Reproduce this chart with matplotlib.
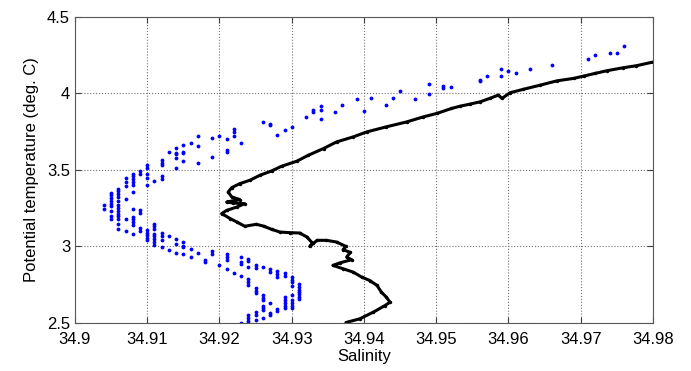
#T-S diagram: CTD profile (black) against bottle samples (blue)
import numpy as np
from matplotlib import pyplot as plt

plt.rcParams['font.family'] = ['Liberation Sans', 'DejaVu Sans']

#bottle samples, one line per salinity bin
blue_sal = []
blue_temp = []
blue_cols = [
    (34.904, [3.272, 3.246]),
    (34.905, [3.350, 3.333, 3.315, 3.298, 3.278, 3.261, 3.228, 3.197, 3.175]),
    (34.906, [3.372, 3.359, 3.339, 3.322, 3.293, 3.272, 3.250, 3.232, 3.213, 3.197, 3.175, 3.143, 3.110]),
    (34.907, [3.446, 3.420, 3.392, 3.309, 3.175, 3.099]),
    (34.908, [3.470, 3.457, 3.438, 3.418, 3.403, 3.357, 3.246, 3.191, 3.175, 3.160, 3.141, 3.082]),
    (34.909, [3.492, 3.475, 3.239, 3.219, 3.118, 3.101]),
    (34.910, [3.534, 3.512, 3.469, 3.449, 3.400, 3.103, 3.088, 3.070, 3.055, 3.040]),
    (34.911, [3.425, 3.143, 3.130, 3.110, 3.077, 3.064, 3.049, 3.027, 3.010]),
    (34.912, [3.564, 3.547, 3.531, 3.459, 3.439, 3.088, 3.066, 3.038, 2.992]),
    (34.913, [3.617, 3.064, 2.972]),
    (34.914, [3.641, 3.610, 3.600, 3.580, 3.514, 3.046, 3.016, 2.954]),
    (34.915, [3.665, 3.617, 3.610, 3.558, 3.029, 3.000, 2.992, 2.948]),
    (34.916, [3.678, 2.983, 2.931]),
    (34.917, [3.720, 3.654, 3.547, 2.957]),
    (34.918, [2.911, 2.896]),
    (34.919, [3.711, 3.584, 2.970, 2.946]),
    (34.920, [3.720, 2.874]),
    (34.921, [3.702, 3.632, 3.617, 2.951, 2.931, 2.910, 2.852]),
    (34.922, [3.764, 3.744, 3.724, 2.826]),
    (34.923, [3.678, 2.931, 2.896, 2.880, 2.802, 2.498]),
    (34.924, [2.918, 2.900, 2.863, 2.782, 2.764, 2.747, 2.546, 2.528, 2.511, 2.498]),
    (34.925, [2.878, 2.859, 2.725, 2.708, 2.695, 2.567, 2.550, 2.518]),
    (34.926, [3.811, 2.861, 2.677, 2.662, 2.646, 2.611, 2.598, 2.585, 2.531]),
    (34.927, [3.800, 3.794, 2.848, 2.830, 2.629, 2.564, 2.548]),
    (34.928, [3.728, 2.834, 2.817, 2.800, 2.590, 2.574]),
    (34.929, [3.757, 2.823, 2.806, 2.664, 2.646, 2.629, 2.611, 2.594]),
    (34.930, [3.783, 2.797, 2.780, 2.764, 2.738, 2.682, 2.649, 2.629, 2.611, 2.594]),
    (34.931, [2.749, 2.732, 2.716, 2.701, 2.686, 2.670, 2.655]),
    (34.932, [3.846]),
    (34.933, [3.890, 3.875]),
    (34.934, [3.916, 3.890, 3.829]),
    (34.936, [3.875]),
    (34.937, [3.927]),
    (34.939, [3.962]),
    (34.940, [3.886]),
    (34.941, [3.971]),
    (34.943, [3.923]),
    (34.944, [3.967]),
    (34.945, [4.017]),
    (34.947, [3.962]),
    (34.949, [4.063, 3.995]),
    (34.951, [4.050, 4.032]),
    (34.952, [4.041]),
    (34.956, [4.087, 4.078]),
    (34.957, [4.111]),
    (34.959, [4.161, 4.115]),
    (34.960, [4.148]),
    (34.961, [4.131]),
    (34.963, [4.157]),
    (34.966, [4.185]),
    (34.971, [4.225]),
    (34.972, [4.249]),
    (34.974, [4.262]),
    (34.975, [4.266]),
    (34.976, [4.312]),
]
for s, temps in blue_cols:
    blue_sal += [s] * len(temps)
    blue_temp += temps

#CTD trace, bottom to top
ctd_sal = [34.9375, 34.9394, 34.9413, 34.9429, 34.9436, 34.9431, 34.9424, 34.9418,
           34.9408, 34.9397, 34.9385, 34.9371, 34.9357, 34.9367, 34.9383, 34.9376,
           34.9381, 34.9371, 34.9375, 34.9362, 34.9348, 34.9335, 34.9325, 34.9329,
           34.9321, 34.9311, 34.9298, 34.9284, 34.9272, 34.9261, 34.9251, 34.9235,
           34.9224, 34.9215, 34.9203, 34.9210, 34.9224, 34.9235, 34.9219, 34.9210,
           34.9228, 34.9217, 34.9212, 34.9217, 34.9228, 34.9242, 34.9256, 34.9272,
           34.9286, 34.9307, 34.9323, 34.9344, 34.9362, 34.9385, 34.9404, 34.9431,
           34.9459, 34.9482, 34.9501, 34.9521, 34.9533, 34.9547, 34.9561, 34.9574,
           34.9586, 34.9591, 34.9602, 34.9620, 34.9644, 34.9667, 34.9690, 34.9704,
           34.9720, 34.9736, 34.9759, 34.9777, 34.9800]
ctd_temp = [2.500, 2.524, 2.568, 2.611, 2.633, 2.666, 2.699, 2.743,
            2.775, 2.797, 2.830, 2.852, 2.874, 2.891, 2.911, 2.928,
            2.959, 2.977, 2.998, 3.027, 3.038, 3.038, 2.998, 3.018,
            3.060, 3.086, 3.088, 3.092, 3.110, 3.131, 3.143, 3.130,
            3.158, 3.180, 3.213, 3.234, 3.256, 3.278, 3.282, 3.289,
            3.305, 3.322, 3.354, 3.383, 3.409, 3.431, 3.464, 3.492,
            3.523, 3.556, 3.595, 3.639, 3.682, 3.715, 3.748, 3.781,
            3.813, 3.846, 3.869, 3.901, 3.916, 3.930, 3.945, 3.967,
            3.989, 3.967, 4.004, 4.026, 4.054, 4.082, 4.098, 4.113,
            4.131, 4.148, 4.168, 4.181, 4.205]

xticks = [34.9, 34.91, 34.92, 34.93, 34.94, 34.95, 34.96, 34.97, 34.98]
yticks = [2.5, 3, 3.5, 4, 4.5]
ytick_labels = ['2.5', '3', '3.5', '4', '4.5']

fig = plt.figure(figsize=(6.91, 3.71), dpi=100)
ax = fig.add_axes([0.1085, 0.1307, 0.8365, 0.8235])

ax.plot(blue_sal, blue_temp, '.', color='#0000ff', ms=5.5, mew=0)
ax.plot(ctd_sal, ctd_temp, '-', color='k', lw=2.2, solid_capstyle='round')
ax.plot(ctd_sal, ctd_temp, '.', color='k', ms=5, mew=0)

ax.set_xlim(34.9, 34.98)
ax.set_ylim(2.5, 4.5)
ax.set_xticks(xticks)
ax.set_xticklabels(['%g' % t for t in xticks])
ax.set_yticks(yticks)
ax.set_yticklabels(ytick_labels)
ax.grid(True, linestyle=':', color='0.45', lw=0.8)
ax.tick_params(direction='in', top=True, right=True, length=4, labelsize=12, colors='0.25',
               labelcolor='k')
ax.tick_params(axis='x', pad=7)
for sp in ax.spines.values():
    sp.set_color('0.35')

ax.set_xlabel('Salinity', fontsize=12, labelpad=1)
ax.set_ylabel('Potential temperature (deg. C)', fontsize=12, labelpad=6)

plt.savefig('out.png', dpi=100)
